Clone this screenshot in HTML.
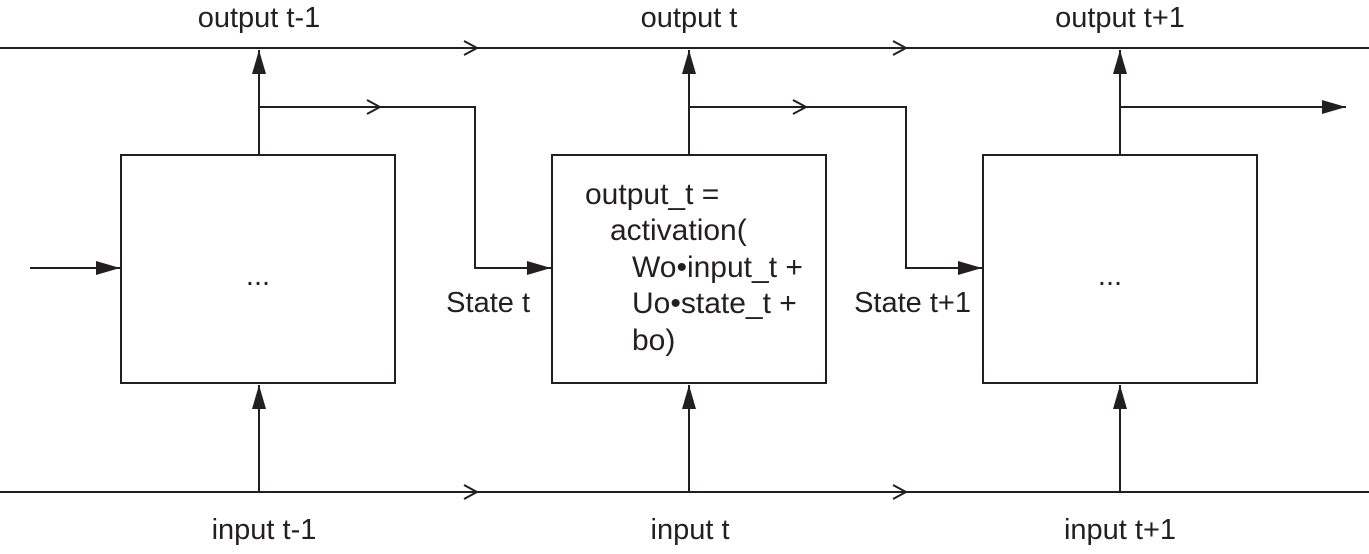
<!DOCTYPE html>
<html><head><meta charset="utf-8"><style>
html,body{margin:0;padding:0;background:#fff;}
svg text{font-family:"Liberation Sans",Arial,sans-serif;fill:#231f20;}
</style></head><body>
<svg width="1369" height="549" viewBox="0 0 1369 549" xmlns="http://www.w3.org/2000/svg">
<defs>
<marker id="au" markerWidth="24" markerHeight="14" refX="24" refY="7" orient="auto" markerUnits="userSpaceOnUse"><path d="M0,0 L24,7 L0,14 Z" fill="#231f20"/></marker>
</defs>
<g stroke="#231f20" stroke-width="2" fill="none">
<line x1="0" y1="48" x2="1369" y2="48"/>
<line x1="0" y1="492" x2="1369" y2="492"/>
<rect x="121" y="155" width="274" height="228"/>
<rect x="552" y="155" width="274" height="228"/>
<rect x="983" y="155" width="274" height="228"/>
<polyline points="464,41 477,48 464,55"/>
<polyline points="893,41 906,48 893,55"/>
<polyline points="464,485 477,492 464,499"/>
<polyline points="893,485 906,492 893,499"/>
<polyline points="367,100 380,107 367,114"/>
<polyline points="793,100 806,107 793,114"/>
<line x1="259" y1="155" x2="259" y2="50" marker-end="url(#au)"/>
<line x1="689" y1="155" x2="689" y2="50" marker-end="url(#au)"/>
<line x1="1120" y1="155" x2="1120" y2="50" marker-end="url(#au)"/>
<line x1="259" y1="492" x2="259" y2="385" marker-end="url(#au)"/>
<line x1="689" y1="492" x2="689" y2="385" marker-end="url(#au)"/>
<line x1="1120" y1="492" x2="1120" y2="385" marker-end="url(#au)"/>
<polyline points="259,107 475,107 475,268 551,268" marker-end="url(#au)"/>
<polyline points="689,107 906,107 906,268 982,268" marker-end="url(#au)"/>
<line x1="1120" y1="107" x2="1346" y2="107" marker-end="url(#au)"/>
<line x1="30" y1="268" x2="120" y2="268" marker-end="url(#au)"/>
</g>
<g font-size="29" text-anchor="middle">
<text x="259" y="27">output t-1</text>
<text x="689" y="27">output t</text>
<text x="1120" y="27">output t+1</text>
<text x="264" y="539">input t-1</text>
<text x="690" y="539">input t</text>
<text x="1120" y="539">input t+1</text>
<text x="258" y="285">...</text>
<text x="1110" y="285">...</text>
</g>
<g font-size="29" text-anchor="end">
<text x="530" y="312">State t</text>
<text x="971" y="312">State t+1</text>
</g>
<g font-size="30">
<text x="585" y="204">output_t =</text>
<text x="610" y="240">activation(</text>
<text x="632" y="277">Wo•input_t +</text>
<text x="632" y="313">Uo•state_t +</text>
<text x="632" y="350">bo)</text>
</g>
</svg>
</body></html>
